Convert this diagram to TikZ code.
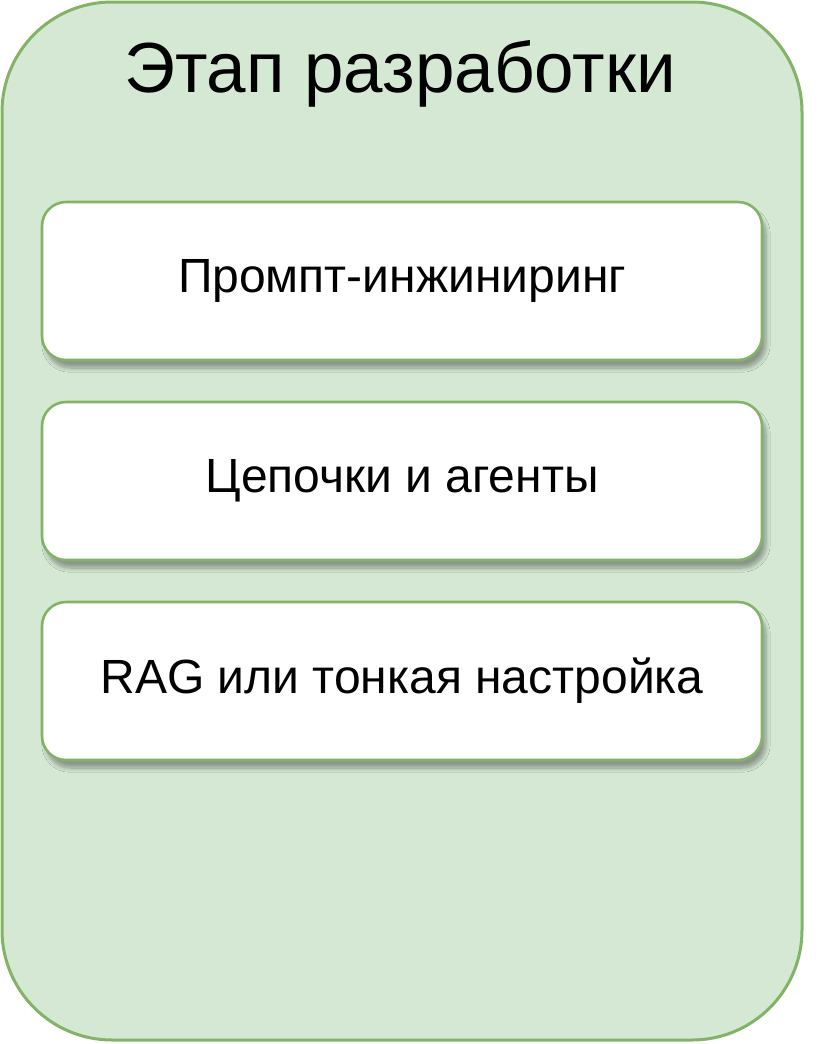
\documentclass[tikz,border=0pt]{standalone}
\usepackage{fontspec}
\setmainfont{Liberation Sans}
\usetikzlibrary{shadows.blur}
\definecolor{stagefill}{HTML}{D5E8D4}
\definecolor{stageline}{HTML}{82B366}
\begin{document}
\begin{tikzpicture}[x=0.5pt,y=-0.5pt,
    stagebox/.style={draw=stageline,fill=stagefill,line width=1.5pt,rounded corners=55pt},
    taskbox/.style={draw=stageline,fill=white,line width=1.3pt,rounded corners=12pt,
      minimum width=360pt,minimum height=79pt,
      blur shadow={shadow xshift=2pt,shadow yshift=-4pt,shadow blur steps=8,shadow opacity=35},
      font=\fontsize{24}{28}\selectfont}]
      \useasboundingbox(0,0)rectangle(836,1044);
      \draw[stagebox](2,2)rectangle(802,1040);
      \node (title) at(400,74){\fontsize{35.5}{42}\selectfont Этап разработки};
      \foreach \n/\y/\t in{%
        1/281/Промпт-инжиниринг, 2/481/Цепочки и агенты, 3/681/RAG или тонкая настройка}{%
        \node[taskbox] (task\n) at(402,\y){\t};
      }
\end{tikzpicture}
\end{document}
